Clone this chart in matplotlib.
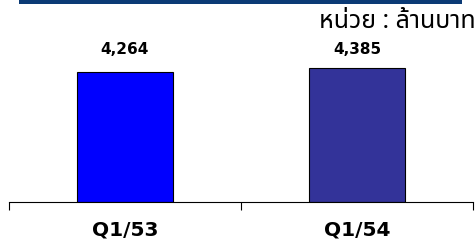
import matplotlib
matplotlib.use("Agg")
import matplotlib.pyplot as plt
from matplotlib.patches import Rectangle

categories = ["Q1/53", "Q1/54"]
values = [4264, 4385]
value_labels = ["4,264", "4,385"]
bar_colors = ["#0000FF", "#333399"]
unit_text = "หน่วย : ล้านบาท"

fig = plt.figure(figsize=(4.77, 2.44), dpi=100)
fig.patch.set_facecolor("white")

# top band
fig.add_artist(Rectangle((19 / 477, 1 - 4 / 244), (462 - 19) / 477, 4 / 244,
                         transform=fig.transFigure, color="#0B3A75", lw=0))

ax = fig.add_axes([9 / 477, 42 / 244, 464 / 477, 162 / 244])
x = list(range(len(categories)))
ax.bar(x, values, width=0.41, color=bar_colors, edgecolor="black", linewidth=0.8)
ax.set_xlim(-0.5, 1.5)
ax.set_ylim(0, 5313)

# value labels sit on one line above the bars
for xi, lab in zip(x, value_labels):
    ax.text(xi, 4990, lab, ha="center", va="center", fontsize=11,
            fontweight="bold", family="DejaVu Sans")

for s in ["top", "right", "left"]:
    ax.spines[s].set_visible(False)
ax.spines["bottom"].set_linewidth(0.8)
ax.set_yticks([])
ax.set_xticks([-0.5, 0.5, 1.5])
ax.set_xticklabels([])
ax.tick_params(axis="x", length=6, width=0.8, direction="out")
for xi, c in zip(x, categories):
    ax.text(xi, -0.17, c, transform=ax.get_xaxis_transform(), ha="center",
            va="center", fontsize=14.5, fontweight="bold", family="DejaVu Sans")

fig.text(476 / 477, 1 - 21 / 244, unit_text, ha="right", va="center", fontsize=18,
         family=["Noto Sans Thai", "Loma", "Garuda", "Tahoma", "Noto Sans", "DejaVu Sans"])

fig.savefig("out.png", dpi=100)
